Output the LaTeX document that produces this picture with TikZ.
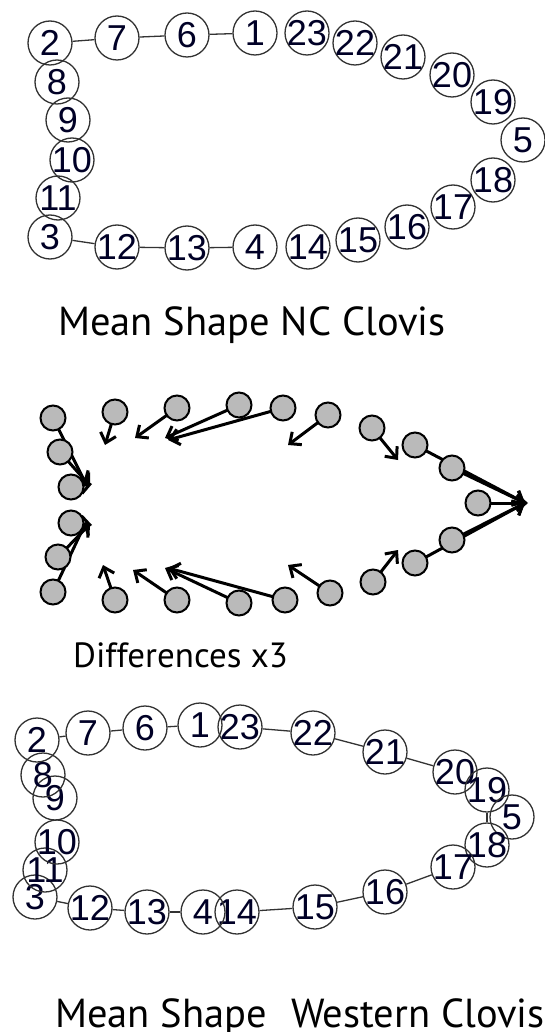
\documentclass[tikz,border=0pt]{standalone}
\usepackage{fontspec}
\setmainfont{Liberation Sans}
\newfontfamily\titlefont{PT Sans}
\usetikzlibrary{arrows.meta}
\newcommand{\lmtext}[1]{\makebox[0pt]{\raisebox{-0.36em}[0pt][0pt]{#1}}}
\begin{document}
\begin{tikzpicture}[x=1pt,y=-1pt,
  lm/.style={circle, draw=black!80, line width=1.3pt, minimum size=44pt, inner sep=0pt,
             font=\fontsize{36}{36}\selectfont, text=black!85!blue},
  link/.style={draw=black!80, line width=1.3pt},
  gp/.style={circle, draw=black, fill=black!27, line width=2pt, minimum size=25pt, inner sep=0pt},
  da/.style={line width=3pt, line cap=round, -{Straight Barb[length=9pt,width=16pt]}},
  ttl/.style={anchor=base west, inner sep=0pt, font=\titlefont\fontsize{40.5}{46}\selectfont},
  sub/.style={anchor=base west, inner sep=0pt, font=\titlefont\fontsize{35}{40}\selectfont}]
\useasboundingbox (0,0) rectangle (545,1032);
\clip (0,0) rectangle (545,1032);
\fill[white] (0,0) rectangle (545,1032);

% ---------- top panel: Mean Shape NC Clovis ----------
\foreach \n/\x/\y in {2/50/43, 7/117/38, 6/187/35, 1/255/33, 23/307/33, 22/355/43,
  21/403/57, 20/452/75, 19/493/102, 5/523/140, 18/493/180, 17/453/207, 16/407/227,
  15/358/240, 14/308/247, 4/255/247, 13/187/248, 12/117/247, 3/50/237, 11/58/198,
  10/72/160, 9/68/120, 8/57/82}
  \node[lm] (a\n) at (\x,\y) {\lmtext{\n}};
\foreach \p/\q in {2/7, 7/6, 6/1, 3/12, 12/13, 13/4}
  \draw[link] (a\p) -- (a\q);
\node[ttl] (title1) at (58,335) {Mean Shape NC Clovis};

% ---------- middle panel: differences ----------
\foreach \n/\x/\y/\tx/\ty in {2/53/418/86/484, 8/60/452/90/486, 9/71/487/92/484,
  10/71/523/92/525, 11/58/557/90/524, 3/53/592/86/522,
  7/115/412/105/445, 6/177/408/135/438, 1/239/405/165/438, 23/283/408/168/440,
  22/328/415/288/445, 21/372/428/398/460,
  20/415/445/525/503, 19/452/468/525/503, 5/478/503/528/503, 18/452/540/525/503, 17/415/563/525/503,
  16/373/582/398/550, 15/330/593/288/565, 14/285/600/168/568, 4/239/603/165/568,
  13/177/600/133/570, 12/115/600/103/565}
{
  \coordinate (d\n) at (\x,\y);
  \coordinate (e\n) at (\tx,\ty);
  \draw[da] (d\n) -- (e\n);
}
\foreach \n in {2,8,9,10,11,3,7,6,1,23,22,21,20,19,5,18,17,16,15,14,4,13,12}
  \node[gp] (g\n) at (d\n) {};
\node[sub] (title2) at (73,667) {Differences x3};

% ---------- bottom panel: Mean Shape Western Clovis ----------
\foreach \n/\x/\y in {2/37/740, 7/88/733, 6/145/728, 1/200/725, 23/240/727, 22/313/733,
  21/385/752, 20/455/772, 19/487/790, 5/512/817, 18/487/845, 17/453/867, 16/385/892,
  15/315/907, 14/237/912, 4/203/912, 13/147/912, 12/90/908, 3/35/897, 11/45/870,
  10/57/842, 9/55/798, 8/43/775}
  \node[lm] (b\n) at (\x,\y) {\lmtext{\n}};
\foreach \p/\q in {2/7, 7/6, 6/1, 23/22, 22/21, 21/20, 19/18, 17/16, 16/15, 15/14, 4/13, 13/12, 12/3}
  \draw[link] (b\p) -- (b\q);
\node[ttl] (title3) at (55,1027) {Mean Shape\hspace{24pt}Western Clovis};
\end{tikzpicture}
\end{document}
